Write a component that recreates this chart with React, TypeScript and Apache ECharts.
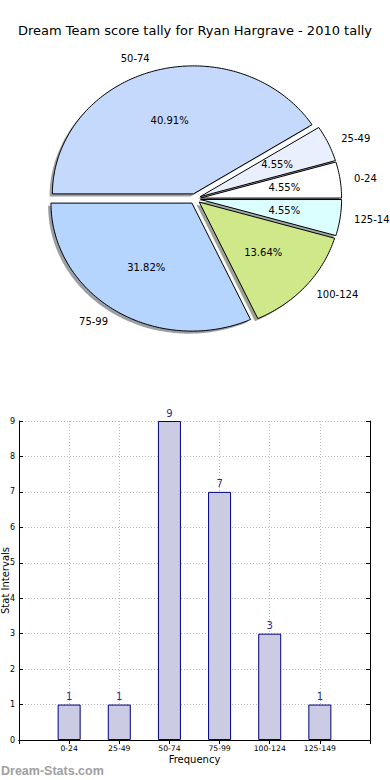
import React, { useEffect, useRef } from 'react';
import * as echarts from 'echarts';

const TITLE = 'Dream Team score tally for Ryan Hargrave - 2010 tally';
const categories = ['0-24', '25-49', '50-74', '75-99', '100-124', '125-149'];
const counts = [1, 1, 9, 7, 3, 1];
const sliceColors = ['#ffffff', '#e9effc', '#c5d9fd', '#b5d4fe', '#cfe98a', '#dbfefe'];
const explode = [0.04, 0.04, 0.04, 0.04, 0.04, 0.04];
const WATERMARK = 'Dream-Stats.com';
const X_NAME = 'Frequency';
const Y_NAME = 'Stat Intervals';

const FONT = 'DejaVu Sans';

function shadowOf(hex: string): string {
  const n = parseInt(hex.slice(1), 16);
  const r = Math.round(((n >> 16) & 255) * 0.3);
  const g = Math.round(((n >> 8) & 255) * 0.3);
  const b = Math.round((n & 255) * 0.3);
  return `rgba(${r},${g},${b},0.5)`;
}

export default function App() {
  const ref = useRef<HTMLDivElement>(null);
  useEffect(() => {
    if (!ref.current) return;
    const chart = echarts.init(ref.current, undefined, { renderer: 'svg' });
    const total = counts.reduce((a, b) => a + b, 0);

    const renderSlice = (params: any, api: any) => {
      const i = params.dataIndex;
      let before = 0;
      for (let k = 0; k < i; k++) before += counts[k];
      const t1 = (before / total) * 2 * Math.PI;
      const t2 = ((before + counts[i]) / total) * 2 * Math.PI;
      const tm = (t1 + t2) / 2;
      const ox = explode[i] * Math.cos(tm);
      const oy = explode[i] * Math.sin(tm);
      const pts = (dx: number, dy: number) => {
        const arr: number[][] = [api.coord([ox + dx, oy + dy])];
        const n = Math.max(4, Math.ceil((t2 - t1) / (Math.PI / 180)));
        for (let s = 0; s <= n; s++) {
          const t = t1 + ((t2 - t1) * s) / n;
          arr.push(api.coord([ox + dx + Math.cos(t), oy + dy + Math.sin(t)]));
        }
        return arr;
      };
      const lp = api.coord([ox + 1.1 * Math.cos(tm), oy + 1.1 * Math.sin(tm)]);
      const pp = api.coord([ox + 0.6 * Math.cos(tm), oy + 0.6 * Math.sin(tm)]);
      const pct = ((counts[i] / total) * 100).toFixed(2) + '%';
      return {
        type: 'group',
        children: [
          {
            type: 'polygon',
            z2: 1,
            shape: { points: pts(-0.02, -0.02) },
            style: { fill: shadowOf(sliceColors[i]), stroke: 'none' },
          },
          {
            type: 'polygon',
            z2: 10,
            shape: { points: pts(0, 0) },
            style: { fill: sliceColors[i], stroke: '#000', lineWidth: 1, lineJoin: 'miter' },
          },
          {
            type: 'text',
            z2: 20,
            x: lp[0],
            y: lp[1],
            style: {
              text: categories[i],
              fill: '#000',
              fontSize: 10,
              fontFamily: FONT,
              align: Math.cos(tm) > 0 ? 'left' : 'right',
              verticalAlign: 'middle',
            },
          },
          {
            type: 'text',
            z2: 20,
            x: pp[0],
            y: pp[1],
            style: {
              text: pct,
              fill: '#000',
              fontSize: 10,
              fontFamily: FONT,
              align: 'center',
              verticalAlign: 'middle',
            },
          },
        ],
      };
    };

    const padded = ['', ...categories, ''];
    const barData = ['-', ...counts, '-'];
    const gridLine = { show: true, lineStyle: { color: '#b8b8b8', type: [1, 2] as any, width: 1 } };

    chart.setOption({
      animation: false,
      backgroundColor: '#ffffff',
      title: {
        text: TITLE,
        left: 'center',
        top: 19,
        textStyle: { fontSize: 13, fontWeight: 'normal', color: '#000', fontFamily: FONT },
      },
      grid: [
        { left: 54, top: 70.8, width: 282, height: 256, outerBoundsMode: 'none', containLabel: false },
        { left: 19, right: 20, top: 421, bottom: 40, outerBoundsMode: 'none', containLabel: false },
      ],
      xAxis: [
        { gridIndex: 0, type: 'value', min: -1, max: 1, show: false },
        {
          gridIndex: 1,
          type: 'category',
          data: padded,
          boundaryGap: false,
          axisLine: { show: true, lineStyle: { color: '#000', width: 1 } },
          axisTick: { show: true, inside: true, length: 4, interval: 0, lineStyle: { color: '#000' } },
          axisLabel: { interval: 0, fontSize: 7.7, color: '#000', margin: 4, fontFamily: FONT },
          splitLine: { ...gridLine, interval: 0 },
          name: X_NAME,
          nameLocation: 'middle',
          nameGap: 14,
          nameMoveOverlap: false,
          nameTextStyle: { fontSize: 10, color: '#000', fontFamily: FONT },
        },
        {
          gridIndex: 1,
          type: 'category',
          position: 'top',
          data: padded,
          boundaryGap: false,
          axisLine: { show: true, lineStyle: { color: '#000', width: 1 } },
          axisTick: { show: true, inside: true, length: 4, interval: 0, lineStyle: { color: '#000' } },
          axisLabel: { show: false },
          splitLine: { show: false },
        },
      ],
      yAxis: [
        { gridIndex: 0, type: 'value', min: -1, max: 1, show: false },
        {
          gridIndex: 1,
          type: 'value',
          min: 0,
          max: 9,
          interval: 1,
          axisLine: { show: true, lineStyle: { color: '#000', width: 1 } },
          axisTick: { show: true, inside: true, length: 4, lineStyle: { color: '#000' } },
          axisLabel: { fontSize: 8, color: '#000', margin: 4, fontFamily: FONT },
          splitLine: gridLine,
          name: Y_NAME,
          nameLocation: 'middle',
          nameGap: 9,
          nameRotate: 90,
          nameMoveOverlap: false,
          nameTextStyle: { fontSize: 10, color: '#000', fontFamily: FONT },
        },
        {
          gridIndex: 1,
          type: 'value',
          position: 'right',
          min: 0,
          max: 9,
          interval: 1,
          axisLine: { show: true, lineStyle: { color: '#000', width: 1 } },
          axisTick: { show: true, inside: true, length: 4, lineStyle: { color: '#000' } },
          axisLabel: { show: false },
          splitLine: { show: false },
        },
      ],
      series: [
        {
          type: 'custom',
          xAxisIndex: 0,
          yAxisIndex: 0,
          clip: false,
          silent: true,
          data: counts.map((c, i) => ({ name: categories[i], value: [i, c] })),
          renderItem: renderSlice,
        },
        {
          type: 'bar',
          xAxisIndex: 1,
          yAxisIndex: 1,
          data: barData,
          barWidth: 23,
          itemStyle: { color: '#cbcbe4', borderColor: '#000080', borderWidth: 1 },
          label: {
            show: true,
            position: 'top',
            distance: 3,
            color: '#2b2b8f',
            fontSize: 10,
            fontFamily: FONT,
          },
        },
      ],
      graphic: [
        {
          type: 'text',
          left: 1,
          top: 764,
          style: {
            text: WATERMARK,
            fill: '#a0a0a0',
            fontSize: 12.5,
            fontWeight: 'bold',
            fontFamily: 'Liberation Sans',
          },
        },
      ],
    });
    return () => chart.dispose();
  }, []);
  return (
    <div
      ref={ref}
      style={{ position: 'absolute', left: 0, top: 0, width: 390, height: 780 }}
    />
  );
}
